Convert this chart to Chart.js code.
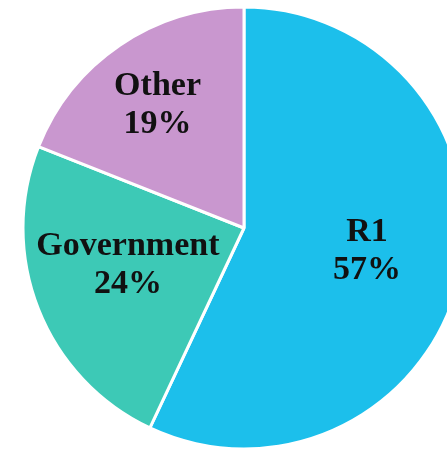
<!DOCTYPE html>
<html>
<head>
<meta charset="utf-8">
<script src="https://cdn.jsdelivr.net/npm/chart.js@4.4.0/dist/chart.umd.min.js"></script>
<style>
  html, body { margin: 0; padding: 0; background: #ffffff; }
  #wrap { position: relative; width: 447px; height: 449px; overflow: hidden; }
  #c { position: absolute; left: 0; top: 0; }
</style>
</head>
<body>
<div id="wrap"><canvas id="c" width="488" height="456"></canvas></div>
<script>
const categories = ["R1", "Government", "Other"];
const shares = [57, 24, 19];
const percentLabels = ["57%", "24%", "19%"];
const sliceColors = ["#1CBFEB", "#3DC9B6", "#C997CF"];

// label placement: distance from centre (fraction of radius) and angular nudge (degrees)
const labelDistance = [0.575, 0.565, 0.647];
const labelAngleShift = [2, 0, -3];

const labelPlugin = {
  id: 'sliceLabels',
  afterDatasetsDraw(chart) {
    const ctx = chart.ctx;
    const meta = chart.getDatasetMeta(0);
    ctx.save();
    ctx.fillStyle = '#111111';
    ctx.font = 'bold 34px "Liberation Serif", "Times New Roman", serif';
    ctx.textAlign = 'center';
    ctx.textBaseline = 'alphabetic';
    meta.data.forEach((arc, i) => {
      const p = arc.getProps(['x', 'y', 'startAngle', 'endAngle', 'outerRadius']);
      const mid = (p.startAngle + p.endAngle) / 2 + labelAngleShift[i] * Math.PI / 180;
      const d = p.outerRadius * labelDistance[i];
      const cx = p.x + Math.cos(mid) * d;
      const cy = p.y + Math.sin(mid) * d;
      ctx.fillText(categories[i], cx, cy - 19);
      ctx.fillText(percentLabels[i], cx, cy + 19);
    });
    ctx.restore();
  }
};

new Chart(document.getElementById('c'), {
  type: 'pie',
  data: {
    labels: categories,
    datasets: [{
      data: shares,
      backgroundColor: sliceColors,
      borderColor: '#ffffff',
      borderWidth: 3,
      hoverOffset: 0
    }]
  },
  options: {
    responsive: false,
    animation: false,
    radius: 221,
    layout: { padding: { top: 7, bottom: 7, left: 23, right: 23 } },
    events: [],
    plugins: {
      legend: { display: false },
      tooltip: { enabled: false }
    }
  },
  plugins: [labelPlugin]
});
</script>
</body>
</html>
